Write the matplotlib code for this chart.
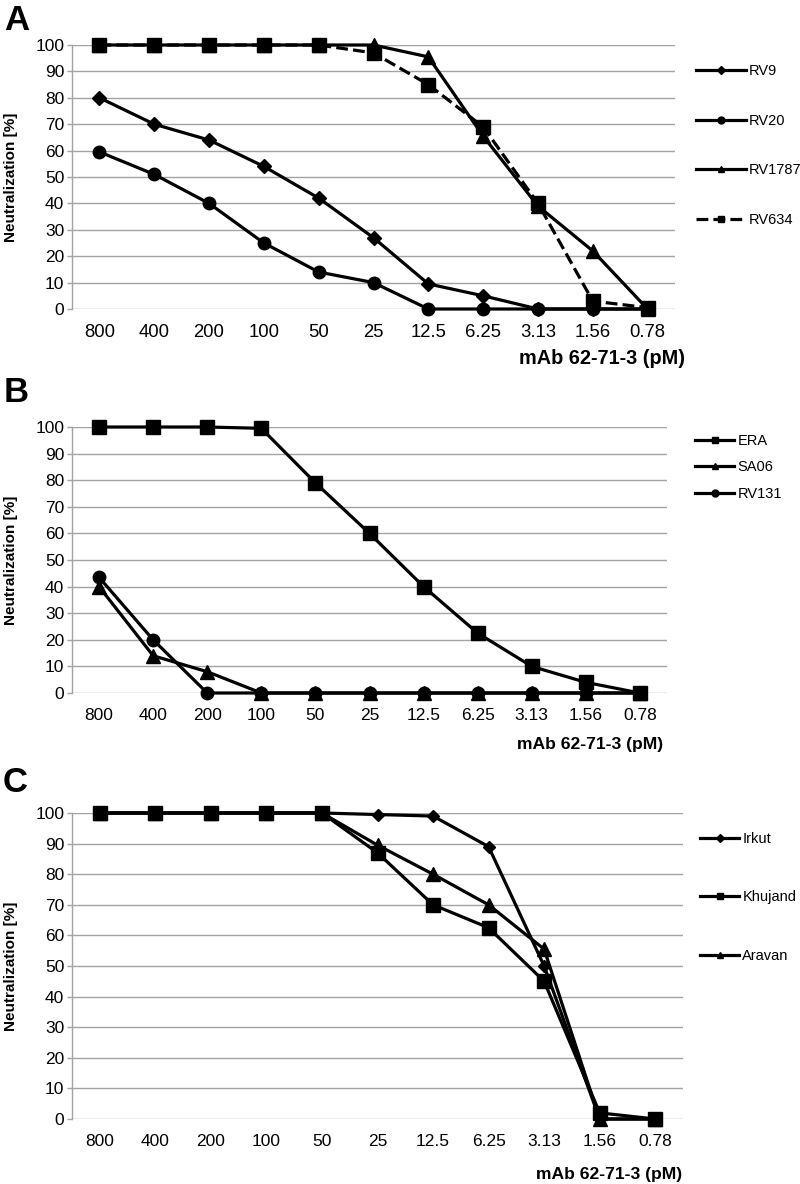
import matplotlib
matplotlib.use("Agg")
import matplotlib.pyplot as plt
from matplotlib.lines import Line2D

plt.rcParams['font.family'] = ['Liberation Sans', 'DejaVu Sans']

concentrations = ["800", "400", "200", "100", "50", "25", "12.5", "6.25", "3.13", "1.56", "0.78"]

# Panel A
a_names = ["RV9", "RV20", "RV1787", "RV634"]
rv9 = [80, 70, 64, 54, 42, 27, 9.5, 5, 0, 0, 0]
rv20 = [59.5, 51, 40, 25, 14, 10, 0, 0, 0, 0, 0]
rv1787 = [100, 100, 100, 100, 100, 100, 95.5, 65.5, 39, 22, 0]
rv634 = [100, 100, 100, 100, 100, 97, 85, 69, 40, 3, 0.5]

# Panel B
b_names = ["ERA", "SA06", "RV131"]
era = [100, 100, 100, 99.5, 79, 60, 40, 22.5, 10, 4, 0]
sa06 = [40, 14, 8, 0, 0, 0, 0, 0, 0, 0, 0]
rv131 = [43.5, 20, 0, 0, 0, 0, 0, 0, 0, 0, 0]

# Panel C
c_names = ["Irkut", "Khujand", "Aravan"]
irkut = [100, 100, 100, 100, 100, 99.5, 99, 89, 50, 0, 0]
khujand = [100, 100, 100, 100, 100, 87, 70, 62.5, 45, 2, 0]
aravan = [100, 100, 100, 100, 100, 89.5, 80, 70, 55.5, 0, 0]

W, H = 800, 1184
fig = plt.figure(figsize=(W / 100, H / 100), dpi=100)
PX = 0.72  # points per pixel

GRID = '#a3a3a3'
LW = 2.3


def make_ax(left, right, top, bottom, xl_right, xl_y, xl_size, xt_size):
    ax = fig.add_axes([left / W, 1 - bottom / H, (right - left) / W, (bottom - top) / H])
    ax.set_xlim(-0.5, 10.5)
    ax.set_ylim(0, 100)
    ax.set_yticks(range(0, 101, 10))
    ax.set_xticks(range(len(concentrations)))
    ax.set_xticklabels(concentrations)
    ax.yaxis.grid(True, color=GRID, linewidth=1.0)
    ax.set_axisbelow(True)
    for s in ['top', 'right', 'bottom']:
        ax.spines[s].set_visible(False)
    ax.spines['left'].set_color(GRID)
    ax.spines['left'].set_linewidth(1.0)
    ax.tick_params(axis='y', direction='out', length=5 * PX, color=GRID, width=1.0,
                   labelsize=12.5, pad=2)
    ax.tick_params(axis='x', length=0, labelsize=xt_size, pad=15 * PX)
    fig.text(xl_right / W, 1 - xl_y / H, "mAb 62-71-3 (pM)",
             ha='right', va='center', fontsize=xl_size, fontweight='bold')
    fig.text(11 / W, 1 - (top + bottom) / 2 / H, "Neutralization [%]", rotation=90,
             ha='center', va='center', fontsize=11, fontweight='bold')
    return ax


x = list(range(len(concentrations)))

# ---------- A ----------
axA = make_ax(72, 675, 45, 309, 685, 359, 14.3, 13.3)
axA.plot(x, rv20, color='black', lw=LW, marker='o', ms=9, clip_on=False, zorder=3)
axA.plot(x, rv9, color='black', lw=LW, marker='D', ms=7.5, clip_on=False, zorder=3)
axA.plot(x, rv1787, color='black', lw=LW, marker='^', ms=9.5, clip_on=False, zorder=3)
axA.plot(x, rv634, color='black', lw=LW, ls='--', marker='s', ms=10, clip_on=False, zorder=3)
fig.text(17 / W, 1 - 20 / H, "A", fontsize=25, fontweight='bold', ha='center', va='center')

hA = [Line2D([], [], color='black', lw=LW, marker='D', ms=4),
      Line2D([], [], color='black', lw=LW, marker='o', ms=5),
      Line2D([], [], color='black', lw=LW, marker='^', ms=5),
      Line2D([], [], color='black', lw=LW, ls='--', marker='s', ms=5)]
fig.legend(hA, a_names, loc='upper left', bbox_to_anchor=(696 / W, 1 - 64 / H),
           frameon=False, fontsize=10.5, handlelength=3.4, handletextpad=0.2,
           labelspacing=2.45, borderpad=0, borderaxespad=0)

# ---------- B ----------
axB = make_ax(72, 667, 427, 693, 663, 745, 12.6, 12.5)
axB.plot(x, era, color='black', lw=LW, marker='s', ms=10, clip_on=False, zorder=3)
axB.plot(x, sa06, color='black', lw=LW, marker='^', ms=9.5, clip_on=False, zorder=3)
axB.plot(x, rv131, color='black', lw=LW, marker='o', ms=9, clip_on=False, zorder=3)
fig.text(16 / W, 1 - 393 / H, "B", fontsize=25, fontweight='bold', ha='center', va='center')

hB = [Line2D([], [], color='black', lw=LW, marker='s', ms=5),
      Line2D([], [], color='black', lw=LW, marker='^', ms=5),
      Line2D([], [], color='black', lw=LW, marker='o', ms=5)]
fig.legend(hB, b_names, loc='upper left', bbox_to_anchor=(695 / W, 1 - 434 / H),
           frameon=False, fontsize=10.5, handlelength=2.7, handletextpad=0.2,
           labelspacing=0.85, borderpad=0, borderaxespad=0)

# ---------- C ----------
axC = make_ax(72, 683, 813, 1119, 682, 1174, 12.6, 12.5)
axC.plot(x, irkut, color='black', lw=LW, marker='D', ms=6, clip_on=False, zorder=3)
axC.plot(x, aravan, color='black', lw=LW, marker='^', ms=9.5, clip_on=False, zorder=3)
axC.plot(x, khujand, color='black', lw=LW, marker='s', ms=10, clip_on=False, zorder=3)
fig.text(15 / W, 1 - 783 / H, "C", fontsize=25, fontweight='bold', ha='center', va='center')

hC = [Line2D([], [], color='black', lw=LW, marker='D', ms=4),
      Line2D([], [], color='black', lw=LW, marker='s', ms=5),
      Line2D([], [], color='black', lw=LW, marker='^', ms=5)]
fig.legend(hC, c_names, loc='upper left', bbox_to_anchor=(700 / W, 1 - 832 / H),
           frameon=False, fontsize=10.5, handlelength=2.7, handletextpad=0.2,
           labelspacing=3.05, borderpad=0, borderaxespad=0)

fig.savefig("out.png", dpi=100, facecolor='white')
